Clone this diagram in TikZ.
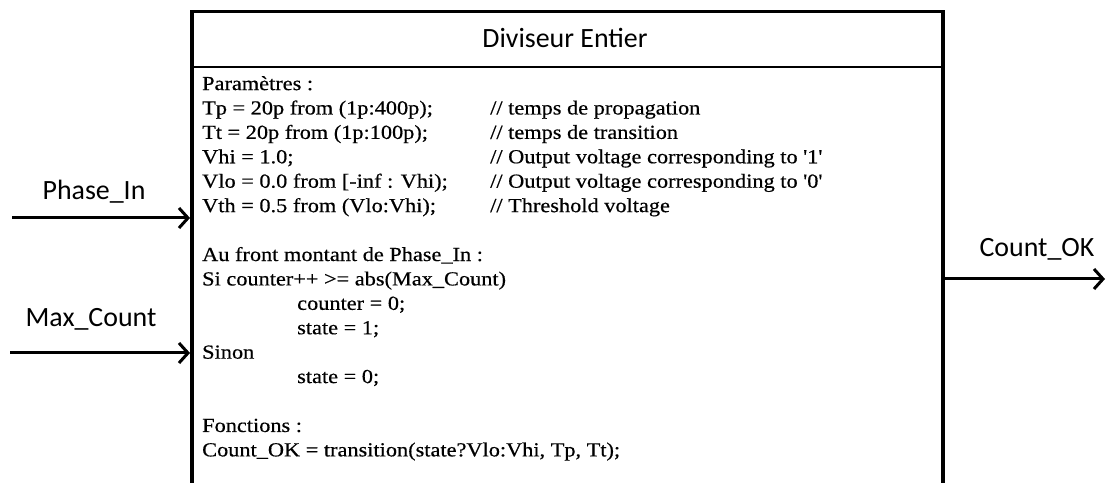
\documentclass[tikz,border=0pt]{standalone}
\usepackage{fontspec}
\setmainfont{Liberation Serif}[Ligatures=TeXOff, FakeStretch=1.12, FakeBold=0.5]
\newfontfamily\calfont{Carlito}
\usetikzlibrary{arrows.meta}

\tikzset{
  blockline/.style={draw, line width=3.5bp, inner sep=0pt},
  sig/.style={line width=3bp, -{Straight Barb[length=9bp,width=20bp]}},
  pinlabel/.style={font=\calfont\fontsize{28}{32}\selectfont, inner sep=0pt},
  codetext/.style={font=\fontsize{20}{24.5}\selectfont, align=left, inner sep=0pt, anchor=north west},
}
\newcommand{\codecol}[1]{\makebox[288bp][l]{#1}}

\begin{document}
\begin{tikzpicture}[x=1bp, y=-1bp]
\useasboundingbox (0,0) rectangle (1108,483);
% --- block (bottom edge runs off the page) ---
\node[blockline, anchor=north west, minimum width=751bp, minimum height=530bp] (box) at (190,10) {};
\coordinate (sep) at (0,67);
\draw[line width=2bp] (box.west |- sep) -- (box.east |- sep);
\node[font=\calfont\fontsize{28}{32}\selectfont] (title) at (565,38) {Diviseur Entier};
% --- behaviour text ---
\node[codetext] (body) at (202,76) {%
Paramètres :\\
\codecol{Tp = 20p from (1p:400p);}// temps de propagation\\
\codecol{Tt = 20p from (1p:100p);}// temps de transition\\
\codecol{Vhi = 1.0;}// Output voltage corresponding to '1'\\
\codecol{Vlo = 0.0 from [-inf : Vhi);}// Output voltage corresponding to '0'\\
\codecol{Vth = 0.5 from (Vlo:Vhi);}// Threshold voltage\\[24.5bp]
Au front montant de Phase\_In :\\
Si counter++ >= abs(Max\_Count)\\
\hspace*{95bp}counter = 0;\\
\hspace*{95bp}state = 1;\\
Sinon\\
\hspace*{95bp}state = 0;\\[24.5bp]
Fonctions :\\
Count\_OK = transition(state?Vlo:Vhi, Tp, Tt);};
% --- inputs ---
\node[pinlabel] (phin) at (94,192) {Phase\_In};
\coordinate (phin-src) at (12,218);
\draw[sig] (phin-src) -- (phin-src -| box.west);
\node[pinlabel] (maxc) at (91,319) {Max\_Count};
\coordinate (maxc-src) at (10,353);
\draw[sig] (maxc-src) -- (maxc-src -| box.west);
% --- output ---
\node[pinlabel] (cntok) at (1037,249) {Count\_OK};
\coordinate (cntok-dst) at (1105,279);
\draw[sig] (cntok-dst -| box.east) -- (cntok-dst);
\end{tikzpicture}
\end{document}
